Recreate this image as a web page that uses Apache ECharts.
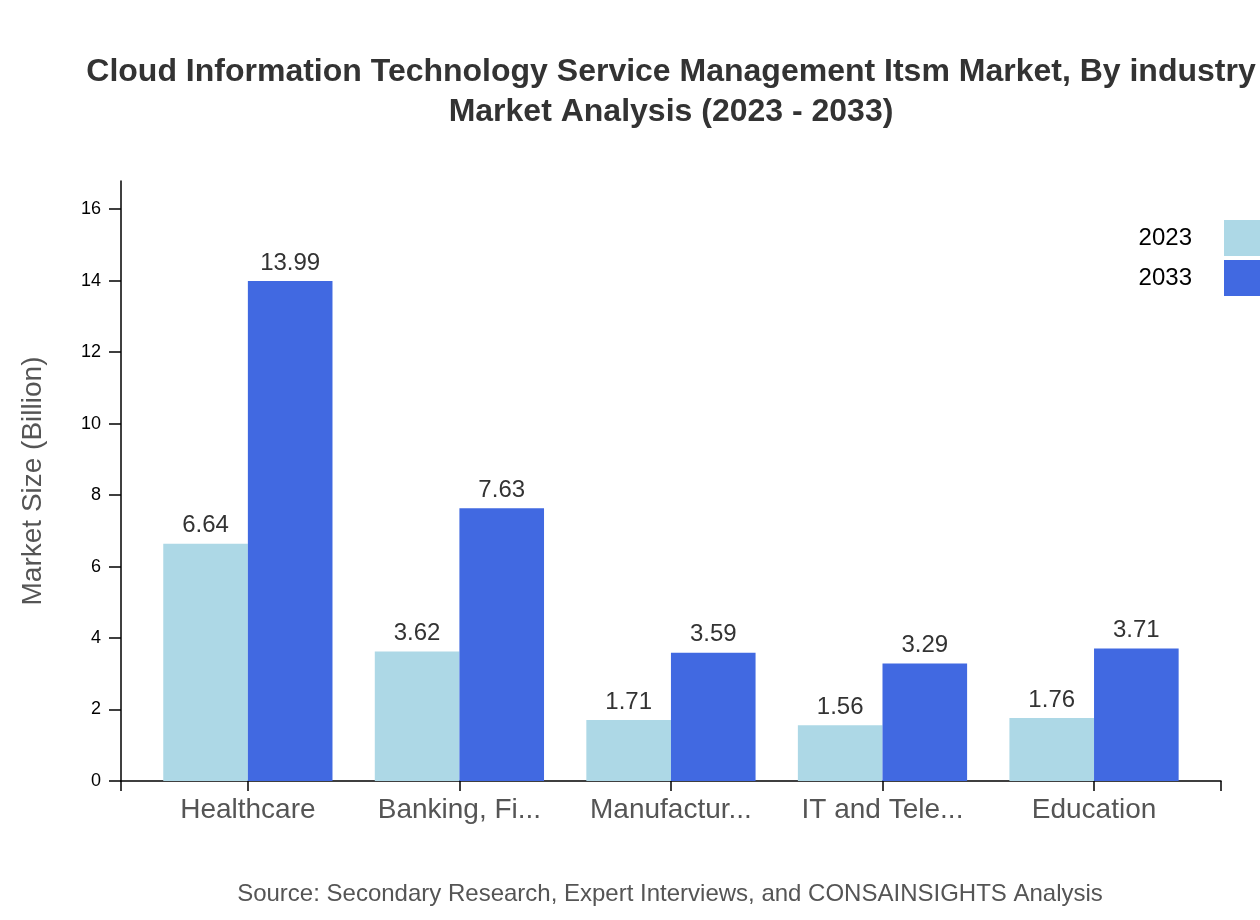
<!DOCTYPE html>
<html>
<head>
<meta charset="utf-8">
<script src="https://cdn.jsdelivr.net/npm/echarts@6/dist/echarts.min.js"></script>
<style>
html,body{margin:0;padding:0;background:#fff;}
#chart{width:1260px;height:920px;}
</style>
</head>
<body>
<div id="chart"></div>
<script>
const categories = ['Healthcare', 'Banking, Fi...', 'Manufactur...', 'IT and Tele...', 'Education'];
const series2023 = [6.64, 3.62, 1.71, 1.56, 1.76];
const series2033 = [13.99, 7.63, 3.59, 3.29, 3.71];
const seriesNames = ['2023', '2033'];
const yTickInterval = 2;

const yMax = Math.max(...series2033, ...series2023) * 1.2;
const FONT = '"Liberation Sans", Arial, Helvetica, sans-serif';

const chart = echarts.init(document.getElementById('chart'), null, {renderer: 'canvas'});
const labelStyle = {show: true, position: 'top', distance: 6, fontSize: 24, color: '#333', fontFamily: FONT};
chart.setOption({
  animation: false,
  textStyle: {fontFamily: FONT},
  title: [{
    text: 'Cloud Information Technology Service Management Itsm Market, By industry\nMarket Analysis (2023 - 2033)',
    left: 666, top: 47, textAlign: 'center',
    textStyle: {fontSize: 32, fontWeight: 'bold', color: '#333', lineHeight: 40, fontFamily: FONT}
  }, {
    text: 'Source: Secondary Research, Expert Interviews, and CONSAINSIGHTS Analysis',
    left: 665, top: 877, textAlign: 'center',
    textStyle: {fontSize: 24, fontWeight: 'normal', color: '#555', fontFamily: FONT}
  }],
  legend: {
    data: seriesNames,
    orient: 'vertical', right: 0, top: 220, padding: 0,
    align: 'right', itemWidth: 36, itemHeight: 36, itemGap: 4,
    icon: 'rect',
    textStyle: {fontSize: 24, color: '#000', padding: [0, 27, 0, 0], fontFamily: FONT}
  },
  grid: [
    {left: 142.1, width: 1057.7, top: 181, height: 600},
    {left: 121, width: 1100, top: 181, height: 600}
  ],
  xAxis: [{
    type: 'category', gridIndex: 0, data: categories,
    axisLine: {show: false},
    axisTick: {show: true, alignWithLabel: true, length: 10, lineStyle: {color: '#000', width: 1.5}},
    axisLabel: {fontSize: 28, color: '#555', margin: 15, fontFamily: FONT, interval: 0}
  }, {
    type: 'value', gridIndex: 1, min: 0, max: 1, interval: 1,
    axisLine: {show: true, lineStyle: {color: '#000', width: 1.5}},
    axisTick: {show: true, length: 10, lineStyle: {color: '#000', width: 1.5}},
    axisLabel: {show: false}, splitLine: {show: false}
  }],
  yAxis: [{
    type: 'value', gridIndex: 0, min: 0, max: yMax, show: false, splitLine: {show: false}
  }, {
    type: 'value', gridIndex: 1, min: 0, max: yMax, interval: yTickInterval,
    name: 'Market Size (Billion)', nameLocation: 'middle', nameGap: 74,
    nameTextStyle: {fontSize: 28, color: '#555', fontFamily: FONT},
    axisLine: {show: true, lineStyle: {color: '#000', width: 1.5}},
    axisTick: {show: true, length: 12, lineStyle: {color: '#000', width: 1.5}},
    axisLabel: {fontSize: 18, color: '#000', margin: 20, showMaxLabel: false, fontFamily: FONT},
    splitLine: {show: false}
  }],
  series: [{
    name: seriesNames[0], type: 'bar', xAxisIndex: 0, yAxisIndex: 0,
    data: series2023, barGap: '0%', barCategoryGap: '20%',
    itemStyle: {color: '#ADD8E6'}, label: labelStyle
  }, {
    name: seriesNames[1], type: 'bar', xAxisIndex: 0, yAxisIndex: 0,
    data: series2033, barGap: '0%', barCategoryGap: '20%',
    itemStyle: {color: '#4169E1'}, label: labelStyle
  }]
});
</script>
</body>
</html>
